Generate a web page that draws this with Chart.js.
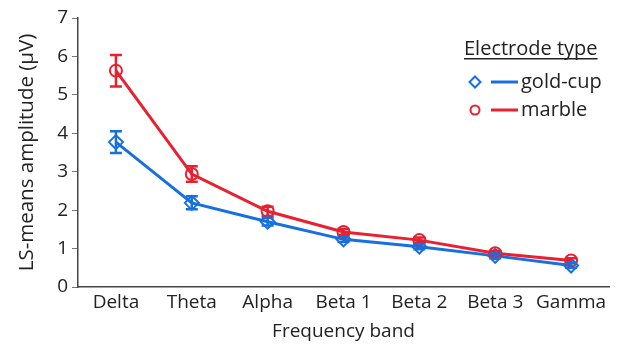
<!DOCTYPE html>
<html>
<head>
<meta charset="utf-8">
<script src="https://cdn.jsdelivr.net/npm/chart.js@4"></script>
<style>
  html, body { margin: 0; padding: 0; background: #fff; }
  #wrap { width: 618px; height: 347px; }
</style>
</head>
<body>
<div id="wrap"><canvas id="chart" width="618" height="347"></canvas></div>
<script>
const bands = ['Delta', 'Theta', 'Alpha', 'Beta 1', 'Beta 2', 'Beta 3', 'Gamma'];
const goldMeans = [3.77, 2.19, 1.70, 1.24, 1.05, 0.81, 0.56];
const goldErr = [0.28, 0.17, 0.10, 0.07, 0.07, 0.06, 0.06];
const marbleMeans = [5.63, 2.94, 1.97, 1.43, 1.22, 0.88, 0.69];
const marbleErr = [0.41, 0.20, 0.12, 0.08, 0.07, 0.06, 0.06];
const yTicks = [0, 1, 2, 3, 4, 5, 6, 7];

const BLUE = '#1670e0';
const RED = '#e8202f';
const FONT = "'Open Sans', 'Noto Sans', sans-serif";

// error bars drawn from the data arrays via the chart's scales
const errorBars = {
  id: 'errorBars',
  afterDatasetsDraw(chart) {
    const ctx = chart.ctx;
    const y = chart.scales.y;
    chart.data.datasets.forEach((ds, di) => {
      const meta = chart.getDatasetMeta(di);
      ctx.save();
      ctx.strokeStyle = ds.borderColor;
      ctx.lineWidth = 2.5;
      meta.data.forEach((pt, i) => {
        const top = y.getPixelForValue(ds.data[i] + ds.errors[i]);
        const bot = y.getPixelForValue(ds.data[i] - ds.errors[i]);
        ctx.beginPath();
        ctx.moveTo(pt.x, top); ctx.lineTo(pt.x, bot);
        ctx.moveTo(pt.x - 6, top); ctx.lineTo(pt.x + 6, top);
        ctx.moveTo(pt.x - 6, bot); ctx.lineTo(pt.x + 6, bot);
        ctx.stroke();
      });
      ctx.restore();
    });
  }
};

// legend with marker + line, like the original
const typeLegend = {
  id: 'typeLegend',
  afterDraw(chart) {
    const ctx = chart.ctx;
    ctx.save();
    ctx.fillStyle = '#222';
    ctx.font = '20px ' + FONT;
    ctx.textBaseline = 'middle';
    ctx.textAlign = 'left';
    const title = 'Electrode type';
    ctx.fillText(title, 464, 49);
    const w = ctx.measureText(title).width;
    ctx.fillRect(464, 58, w, 1.5);
    const rows = [
      { label: 'gold-cup', color: BLUE, shape: 'diamond', y: 82 },
      { label: 'marble', color: RED, shape: 'circle', y: 110 }
    ];
    rows.forEach(r => {
      ctx.strokeStyle = r.color;
      ctx.lineWidth = 2;
      ctx.beginPath();
      if (r.shape === 'diamond') {
        ctx.moveTo(475, r.y - 5.5); ctx.lineTo(480.5, r.y);
        ctx.lineTo(475, r.y + 5.5); ctx.lineTo(469.5, r.y);
        ctx.closePath();
      } else {
        ctx.arc(475, r.y, 4.5, 0, Math.PI * 2);
      }
      ctx.stroke();
      ctx.lineWidth = 3;
      ctx.beginPath();
      ctx.moveTo(491, r.y); ctx.lineTo(518, r.y);
      ctx.stroke();
      ctx.fillStyle = '#222';
      ctx.fillText(r.label, 521, r.y);
    });
    ctx.restore();
  }
};

new Chart(document.getElementById('chart').getContext('2d'), {
  type: 'line',
  data: {
    labels: bands,
    datasets: [
      {
        label: 'marble',
        data: marbleMeans,
        errors: marbleErr,
        borderColor: RED,
        backgroundColor: 'rgba(0,0,0,0)',
        borderWidth: 3,
        pointStyle: 'circle',
        pointRadius: 6,
        pointBorderWidth: 2,
        pointBackgroundColor: 'rgba(255,255,255,0)',
        tension: 0
      },
      {
        label: 'gold-cup',
        data: goldMeans,
        errors: goldErr,
        borderColor: BLUE,
        backgroundColor: 'rgba(0,0,0,0)',
        borderWidth: 3,
        pointStyle: 'rectRot',
        pointRadius: 7,
        pointBorderWidth: 2,
        pointBackgroundColor: 'rgba(255,255,255,0)',
        tension: 0
      }
    ]
  },
  options: {
    responsive: false,
    animation: false,
    layout: { padding: { top: 18, right: 0, left: 0, bottom: 0 } },
    plugins: { legend: { display: false }, tooltip: { enabled: false } },
    scales: {
      x: {
        offset: true,
        grid: { display: false, drawTicks: false },
        border: { display: true, color: '#444', width: 1.5 },
        ticks: { color: '#222', font: { family: FONT, size: 19 }, padding: 4, maxRotation: 0, autoSkip: false },
        title: { display: true, text: 'Frequency band', color: '#222', font: { family: FONT, size: 19 }, padding: { top: 0 } },
        afterFit: s => { s.height = 60; }
      },
      y: {
        min: 0,
        max: 7,
        afterBuildTicks: s => { s.ticks = yTicks.map(v => ({ value: v })); },
        grid: { display: true, drawOnChartArea: false, tickLength: 6, color: '#777' },
        border: { display: true, color: '#444', width: 1.5 },
        ticks: { color: '#222', font: { family: FONT, size: 19 }, padding: 4 },
        title: { display: true, text: 'LS-means amplitude (μV)', color: '#222', font: { family: FONT, size: 20.5 }, padding: { top: 15, bottom: 4 } },
        afterFit: s => { s.width = 78; }
      }
    }
  },
  plugins: [errorBars, typeLegend]
});
</script>
</body>
</html>
